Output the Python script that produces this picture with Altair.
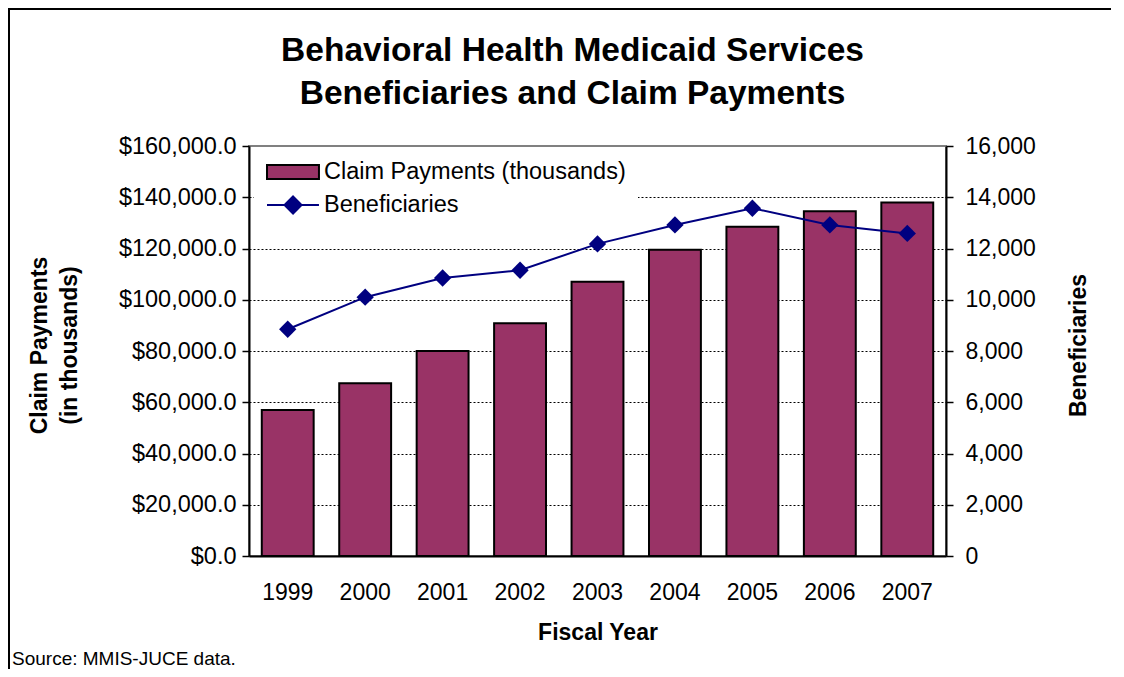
import altair as alt
import pandas as pd

# ---- data ----
years = ["1999", "2000", "2001", "2002", "2003", "2004", "2005", "2006", "2007"]
claim_payments = [57000, 67400, 80000, 90800, 107000, 119500, 128500, 134500, 138000]
beneficiaries = [8850, 10100, 10850, 11150, 12180, 12920, 13570, 12920, 12590]
series_labels = ["Claim Payments (thousands)", "Beneficiaries"]
series_fills = ["#993366", "#000080"]
series_strokes = ["#000000", "#000080"]
title_lines = ["Behavioral Health Medicaid Services", "Beneficiaries and Claim Payments"]
left_axis_title = ["Claim Payments", "(in thousands)"]
right_axis_title = "Beneficiaries"
x_axis_title = "Fiscal Year"
source_note = ["Source: MMIS-JUCE data."]
left_ticks = [0, 20000, 40000, 60000, 80000, 100000, 120000, 140000, 160000]
right_ticks = [0, 2000, 4000, 6000, 8000, 10000, 12000, 14000, 16000]

FONT = "Liberation Sans"
BAR_FILL = series_fills[0]
LINE_COLOR = series_fills[1]

df = pd.DataFrame({"year": years, "payments": claim_payments, "beneficiaries": beneficiaries})
note_df = pd.DataFrame({"note": source_note})

x_enc = alt.X(
    "year:O",
    scale=alt.Scale(paddingInner=0.33, paddingOuter=0.165),
    axis=alt.Axis(
        title=x_axis_title, labelAngle=0, ticks=False, tickSize=0,
        labelPadding=25, titleY=76, titleBaseline="middle",
    ),
)

bars = alt.Chart(df).mark_bar(fill=BAR_FILL, stroke="black", strokeWidth=2, opacity=1).encode(
    x=x_enc,
    y=alt.Y(
        "payments:Q",
        scale=alt.Scale(domain=[0, 160000], nice=False),
        axis=alt.Axis(
            title=left_axis_title, values=left_ticks, format="$,.1f",
            grid=True, gridColor="black", gridDash=[2, 2], gridWidth=1,
            gridOpacity={"condition": {"test": "datum.value >= 160000 || datum.value <= 0", "value": 0}, "value": 1},
            labelPadding=6, tickSize=7, labelFontSize=23.5,
            titleX=-210, titleY=199, titleBaseline="middle", titleLineHeight=30,
            titleAngle=270,
        ),
    ),
)

y_right = alt.Y(
    "beneficiaries:Q",
    scale=alt.Scale(domain=[0, 16000], nice=False),
    axis=alt.Axis(
        orient="right", title=right_axis_title, values=right_ticks, format=",d",
        grid=False, labelPadding=12, tickSize=7,
        titleX=132, titleY=199, titleBaseline="middle", titleAngle=270,
    ),
)
line = alt.Chart(df).mark_line(strokeWidth=2, color=LINE_COLOR).encode(x=x_enc, y=y_right)
points = alt.Chart(df).mark_point(
    shape="diamond", filled=True, size=300, opacity=1, color=LINE_COLOR
).encode(x=x_enc, y=y_right)

# legend-only layer (empty data, legend built from the explicit domains)
bar_path = "M-1,-0.58H3.33V0.58H-1Z"
line_path = "M-1,0H3.33M1.17,-0.71L1.88,0L1.17,0.71L0.46,0Z"
legend = alt.Legend(
    title=None, orient="none", legendX=5, legendY=1, padding=12,
    fillColor="white", symbolSize=576, symbolStrokeWidth=2, symbolOpacity=1,
    labelOffset=32, rowPadding=8, labelLimit=500,
    labelFontSize=23.5, labelFont=FONT, labelColor="black",
)
legend_layer = (
    alt.Chart(df)
    .transform_filter("false")
    .transform_calculate(series=f"'{series_labels[1]}'")
    .mark_point(filled=True, opacity=1)
    .encode(
        color=alt.Color("series:N", scale=alt.Scale(domain=series_labels, range=series_fills), legend=legend),
        stroke=alt.Stroke("series:N", scale=alt.Scale(domain=series_labels, range=series_strokes), legend=legend),
        shape=alt.Shape("series:N", scale=alt.Scale(domain=series_labels, range=[bar_path, line_path]), legend=legend),
    )
)

border_top = alt.Chart(note_df).mark_rule(color="black", strokeWidth=2).encode(
    x=alt.value(-241), x2=alt.value(870), y=alt.value(-137)
)
border_left = alt.Chart(note_df).mark_rule(color="black", strokeWidth=2).encode(
    x=alt.value(-240), y=alt.value(-138), y2=alt.value(523)
)
source = alt.Chart(note_df).mark_text(
    align="left", baseline="alphabetic", fontSize=19, font=FONT, color="black"
).encode(x=alt.value(-237), y=alt.value(519), text="note:N")

chart = (
    alt.layer(bars, alt.layer(line, points), legend_layer, border_top, border_left, source)
    .resolve_scale(y="independent")
    .properties(
        width=697,
        height=410,
        autosize=alt.AutoSizeParams(type="none"),
        padding={"left": 241, "top": 138, "right": 165, "bottom": 113},
        background="white",
        title=alt.TitleParams(
            text=title_lines, font=FONT, fontSize=33.5, fontWeight="bold", color="black",
            anchor="middle", frame="group", baseline="top", offset=0,
            dx=-25, dy=104, lineHeight=43,
        ),
    )
    .configure_view(stroke="#808080", strokeWidth=2)
    .configure_axis(
        labelFont=FONT, titleFont=FONT, labelColor="black", titleColor="black",
        labelFontSize=23, titleFontSize=23, titleFontWeight="bold",
        domainColor="black", domainWidth=2, tickColor="black", tickWidth=1.5,
    )
)

chart.save("out.html", embed_options={"renderer": "svg", "actions": False})
